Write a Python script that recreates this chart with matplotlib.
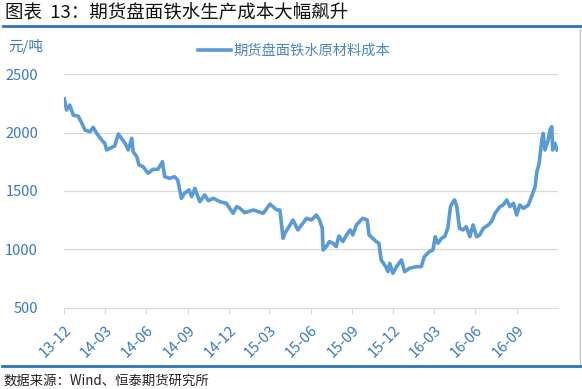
import pandas as pd
import matplotlib.pyplot as plt
from matplotlib.lines import Line2D

plt.rcParams['font.family'] = ['Noto Sans CJK SC', 'DejaVu Sans']

# 读图估计的数据 (元/吨)
dates = ['2013-12-01', '2013-12-06', '2013-12-13', '2013-12-21', '2014-01-01', '2014-01-09',
         '2014-01-16', '2014-01-27', '2014-02-03', '2014-02-11', '2014-02-22', '2014-03-01',
         '2014-03-05', '2014-03-12', '2014-03-23', '2014-03-31', '2014-04-07', '2014-04-15',
         '2014-04-22', '2014-04-30', '2014-05-03', '2014-05-11', '2014-05-16', '2014-05-25',
         '2014-06-05', '2014-06-16', '2014-06-27', '2014-07-07', '2014-07-12', '2014-07-23',
         '2014-08-03', '2014-08-10', '2014-08-18', '2014-08-25', '2014-09-04', '2014-09-10',
         '2014-09-17', '2014-09-28', '2014-10-09', '2014-10-17', '2014-10-28', '2014-11-12',
         '2014-11-26', '2014-12-11', '2014-12-19', '2014-12-26', '2015-01-06', '2015-01-25',
         '2015-02-16', '2015-03-03', '2015-03-18', '2015-03-25', '2015-04-01', '2015-04-05',
         '2015-04-12', '2015-04-23', '2015-05-04', '2015-05-15', '2015-05-23', '2015-06-03',
         '2015-06-14', '2015-06-21', '2015-06-27', '2015-06-29', '2015-07-06', '2015-07-13',
         '2015-07-21', '2015-07-28', '2015-08-03', '2015-08-12', '2015-08-20', '2015-08-28',
         '2015-09-03', '2015-09-11', '2015-09-18', '2015-09-25', '2015-10-05', '2015-10-09',
         '2015-10-17', '2015-10-25', '2015-10-31', '2015-11-05', '2015-11-15', '2015-11-20',
         '2015-11-24', '2015-12-01', '2015-12-09', '2015-12-20', '2015-12-27', '2016-01-07',
         '2016-01-22', '2016-02-02', '2016-02-09', '2016-02-20', '2016-02-28', '2016-03-04',
         '2016-03-10', '2016-03-18', '2016-03-25', '2016-04-01', '2016-04-07', '2016-04-13',
         '2016-04-16', '2016-04-21', '2016-04-27', '2016-05-05', '2016-05-12', '2016-05-20',
         '2016-05-27', '2016-06-04', '2016-06-11', '2016-06-19', '2016-06-30', '2016-07-07',
         '2016-07-15', '2016-07-26', '2016-08-02', '2016-08-10', '2016-08-17', '2016-08-25',
         '2016-09-01', '2016-09-08', '2016-09-16', '2016-09-27', '2016-10-04', '2016-10-12',
         '2016-10-16', '2016-10-21', '2016-10-27', '2016-10-30', '2016-11-03', '2016-11-10',
         '2016-11-14', '2016-11-18', '2016-11-20', '2016-11-25', '2016-11-30']
cost = [2290, 2195, 2237, 2150, 2142, 2080,
        2023, 2008, 2046, 1995, 1937, 1909,
        1852, 1866, 1886, 1989, 1952, 1909,
        1852, 1952, 1837, 1794, 1723, 1709,
        1652, 1686, 1686, 1751, 1623, 1609,
        1623, 1594, 1437, 1480, 1509, 1451,
        1523, 1408, 1466, 1417, 1437, 1408,
        1394, 1309, 1366, 1352, 1314, 1337,
        1309, 1388, 1337, 1337, 1094, 1137,
        1180, 1251, 1166, 1223, 1266, 1251,
        1294, 1251, 1180, 994, 1023, 1066,
        1051, 1023, 1114, 1066, 1123, 1166,
        1123, 1209, 1237, 1266, 1251, 1123,
        1094, 1066, 1051, 908, 851, 808,
        880, 794, 851, 908, 808, 837,
        851, 851, 937, 980, 994, 1108,
        1051, 1094, 1108, 1180, 1366, 1409,
        1423, 1366, 1180, 1166, 1194, 1108,
        1209, 1108, 1123, 1180, 1209, 1237,
        1309, 1366, 1380, 1423, 1366, 1394,
        1294, 1380, 1351, 1380, 1451, 1537,
        1666, 1737, 1937, 1995, 1852, 1937,
        2023, 2051, 1852, 1909, 1852]

tick_dates = ['2013-12-01', '2014-03-01', '2014-06-01', '2014-09-01', '2014-12-01', '2015-03-01',
              '2015-06-01', '2015-09-01', '2015-12-01', '2016-03-01', '2016-06-01', '2016-09-01']
tick_labels = ['13-12', '14-03', '14-06', '14-09', '14-12', '15-03',
               '15-06', '15-09', '15-12', '16-03', '16-06', '16-09']

blue_txt = '#3A78BE'

fig = plt.figure(figsize=(5.82, 3.89), dpi=100)
ax = fig.add_axes([0.1105, 0.2093, 0.8476, 0.5994])

ax.plot(pd.to_datetime(dates), cost, color='#5B9BD5', lw=2.6, label='期货盘面铁水原材料成本')

ax.set_xlim(pd.Timestamp('2013-12-01'), pd.Timestamp('2016-12-01'))
ax.set_ylim(500, 2500)
ax.set_yticks([500, 1000, 1500, 2000, 2500])
ax.set_xticks(pd.to_datetime(tick_dates))
ax.set_xticklabels(tick_labels, rotation=45, ha='right', rotation_mode='anchor')

ax.grid(axis='y', color='#D9D9D9', lw=0.9)
ax.set_axisbelow(True)
for s in ['top', 'right', 'left']:
    ax.spines[s].set_visible(False)
ax.spines['bottom'].set_color('#D9D9D9')
ax.tick_params(axis='y', length=0, pad=19, labelcolor=blue_txt, labelsize=10.5)
ax.tick_params(axis='x', length=4, color='#D9D9D9', labelcolor=blue_txt, labelsize=10.8, pad=7)

ax.legend(loc='center left', bbox_to_anchor=(198 / 582, 1 - 51 / 389), bbox_transform=fig.transFigure,
          frameon=False, handlelength=2.3, handletextpad=0.15, borderaxespad=0, borderpad=0,
          prop={'size': 10.3}, labelcolor='#4A86C5')

# 标题、单位、来源
fig.text(5 / 582, 1 - 13 / 389, '图表  13：期货盘面铁水生产成本大幅飙升', fontsize=13.3,
         fontweight='medium', va='center', ha='left', color='#111111')
fig.text(8 / 582, 1 - 47 / 389, '元/吨', fontsize=10.5, color=blue_txt, va='center', ha='left')
fig.text(4 / 582, 1 - 381 / 389, '数据来源：Wind、恒泰期货研究所', fontsize=9.6,
         va='center', ha='left', color='#222222')

fig.add_artist(Line2D([3 / 582, 1], [1 - 25.7 / 389] * 2, color='#2E75B6', lw=2))
fig.add_artist(Line2D([2 / 582, 1], [1 - 366 / 389] * 2, color='#2E75B6', lw=2))
fig.add_artist(Line2D([580 / 582] * 2, [1 - 29 / 389, 1 - 364 / 389], color='#C8C8C8', lw=1))

plt.savefig('out.png', dpi=100)
